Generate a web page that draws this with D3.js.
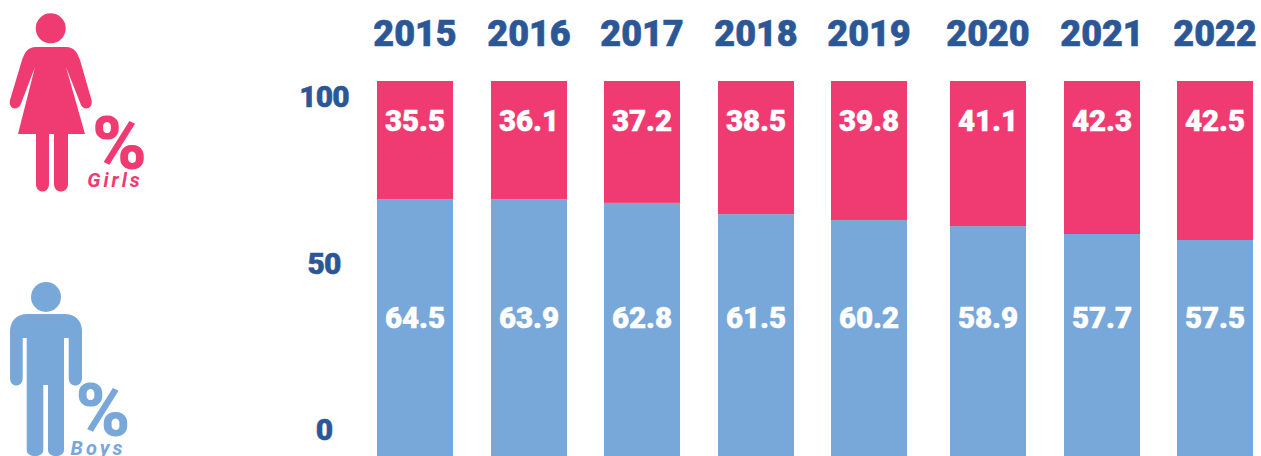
<!DOCTYPE html>
<html><head><meta charset="utf-8">
<script src="https://cdn.jsdelivr.net/npm/d3@7/dist/d3.min.js"></script>
<style>html,body{margin:0;padding:0;background:#fff;overflow:hidden}svg{display:block}text{font-family:Roboto,sans-serif}</style>
</head><body><svg id="c" width="1261" height="456"></svg>
<script>
const years = ["2015","2016","2017","2018","2019","2020","2021","2022"];
const girls = [35.5,36.1,37.2,38.5,39.8,41.1,42.3,42.5];
const boys = [64.5,63.9,62.8,61.5,60.2,58.9,57.7,57.5];
// Bar heights as drawn in the picture (share of the visible bar), which differ from the printed labels
const girlsDrawn = [31.5,31.5,32.5,35.5,37.1,38.7,40.8,42.4];
const yTicks = [0,50,100];
const PINK="#f03a72", BLUE="#78a7d9", NAVY="#2b5797";
const svg=d3.select("#c");
const x=d3.scaleBand().domain(years).range([377,1248.2]).paddingInner(0.331).paddingOuter(0);
const gap=i=>i>=5?5:0;
const bx=(d,i)=>Math.round(x(d)+gap(i));
const y=d3.scaleLinear().domain([0,100]).range([456,81]);
const yAxisScale=d3.scaleLinear().domain([0,100]).range([430,97]);
const w=Math.round(x.bandwidth());
svg.selectAll(".b").data(years).join("rect").attr("class","b").attr("x",bx).attr("width",w)
 .attr("y",(d,i)=>y(100-girlsDrawn[i])).attr("height",(d,i)=>y(0)-y(100-girlsDrawn[i])).attr("fill",BLUE);
svg.selectAll(".g").data(years).join("rect").attr("class","g").attr("x",bx).attr("width",w)
 .attr("y",y(100)).attr("height",(d,i)=>y(100-girlsDrawn[i])-y(100)).attr("fill",PINK);
const lab=(cls,arr,yy)=>svg.selectAll("."+cls).data(years).join("text").attr("class",cls)
 .attr("x",(d,i)=>bx(d,i)+w/2).attr("y",yy).attr("text-anchor","middle").attr("fill","#fff")
 .attr("stroke","#fff").attr("stroke-width",0.5)
 .attr("font-size",29.5).attr("font-weight",900).text((d,i)=>arr[i].toFixed(1));
lab("gl",girls,131);lab("bl",boys,328);
svg.selectAll(".yr").data(years).join("text").attr("class","yr")
 .attr("x",(d,i)=>bx(d,i)+w/2).attr("y",46).attr("text-anchor","middle").attr("fill",NAVY)
 .attr("stroke",NAVY).attr("stroke-width",0.6)
 .attr("font-size",36).attr("font-weight",900).text(d=>d);
const ax=svg.append("g").attr("transform","translate(324,0)")
 .call(d3.axisLeft(yAxisScale).tickValues(yTicks).tickSize(0).tickPadding(0).tickFormat(d3.format("d")));
ax.select(".domain").remove();
ax.selectAll("text").attr("x",0).attr("text-anchor","middle").attr("fill",NAVY).attr("stroke",NAVY).attr("stroke-width",0.5)
 .attr("font-size",30).attr("font-weight",900).style("font-family","Roboto,sans-serif").style("letter-spacing","-0.8px");
function icon(color,d){svg.append("path").attr("d",d).attr("fill",color);}
// Girl
svg.append("circle").attr("cx",50.7).attr("cy",28.3).attr("r",15).attr("fill",PINK);
icon(PINK,"M36 47 H66 C74 47 77 52 80 60 L91.5 100 C93.5 109 84 111 81 105 L66 67 L85 134 H68 V184 C68 194 54 194 54 184 V134 H49 V184 C49 194 36 194 36 184 V134 H18 L35 67 L20.5 105 C17 111 8 109 10 100 L22 60 C25 52 28 47 36 47 Z");
// Boy
svg.append("circle").attr("cx",46).attr("cy",297).attr("r",15).attr("fill",BLUE);
icon(BLUE,"M28 314 H64 C76 314 82 321 82 332 V378 C82 388 68.7 388 68.7 378 V338 H64 V450 C64 458 48 458 48 450 V385 H43.3 V450 C43.3 458 26.7 458 26.7 450 V338 H22.7 V378 C22.7 388 10 388 10 378 V332 C10 321 16 314 28 314 Z");
svg.append("text").attr("x",119.5).attr("y",169).attr("text-anchor","middle").attr("fill",PINK).attr("font-size",74).attr("font-weight",900).text("%");
svg.append("text").attr("x",115).attr("y",187).attr("text-anchor","middle").attr("fill",PINK).attr("font-size",20).attr("font-weight",700).attr("font-style","italic").attr("letter-spacing",3).text("Girls");
svg.append("text").attr("x",103).attr("y",436).attr("text-anchor","middle").attr("fill",BLUE).attr("font-size",74).attr("font-weight",900).text("%");
svg.append("text").attr("x",98).attr("y",455).attr("text-anchor","middle").attr("fill",BLUE).attr("font-size",20).attr("font-weight",700).attr("font-style","italic").attr("letter-spacing",3).text("Boys");
</script></body></html>
